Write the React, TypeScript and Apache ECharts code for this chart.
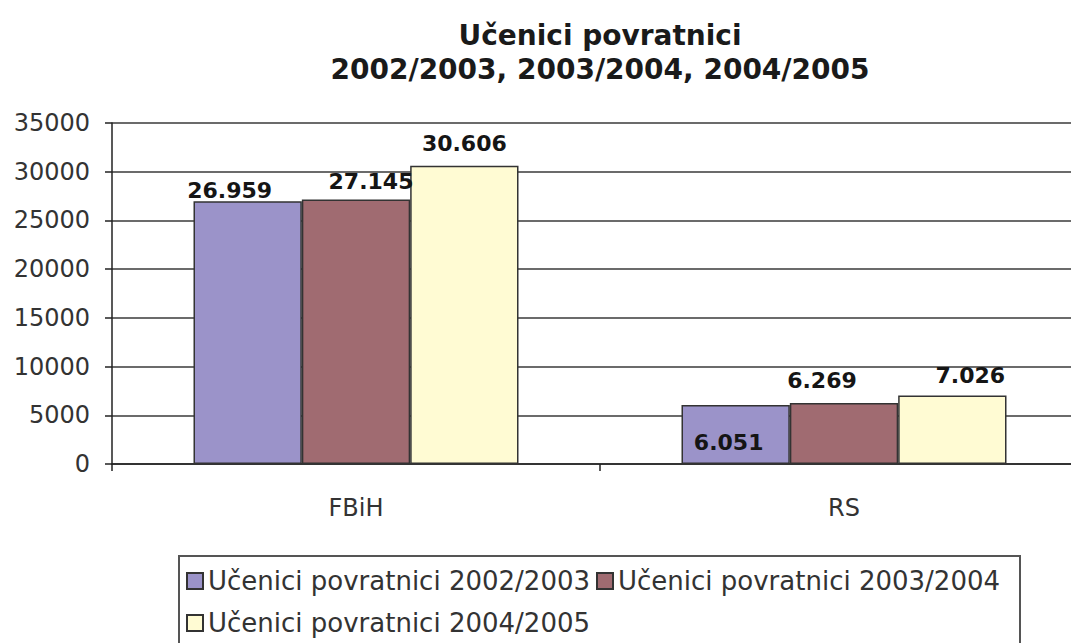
import React, { useEffect, useRef } from "react";
import * as echarts from "echarts";

const categories = ["FBiH", "RS"];
const seriesNames = [
  "Učenici povratnici 2002/2003",
  "Učenici povratnici 2003/2004",
  "Učenici povratnici 2004/2005",
];
const values2002 = [26959, 6051];
const values2003 = [27145, 6269];
const values2004 = [30606, 7026];
const yTicks = { min: 0, max: 35000, interval: 5000 };
const titleLines = ["Učenici povratnici", "2002/2003, 2003/2004, 2004/2005"];

const colors = ["#9b93c9", "#a06b71", "#fffbd3"];
const FONT = "DejaVu Sans";

// per-bar label placement tweaks [series][category]
const labelTweaks = [
  [{ position: "top", offset: [-18, 0] }, { position: "insideBottom", distance: 11, offset: [-7, 0] }],
  [{ position: "top", offset: [15, -7] }, { position: "top", offset: [-22, -11] }],
  [{ position: "top", offset: [0, -11] }, { position: "top", offset: [18, -9] }],
];

const fmt = (v: number) => String(v).replace(/\B(?=(\d{3})+(?!\d))/g, ".");

export default function App() {
  const ref = useRef<HTMLDivElement>(null);
  useEffect(() => {
    if (!ref.current) return;
    const chart = echarts.init(ref.current, null, { renderer: "svg" });
    const all = [values2002, values2003, values2004];
    const series = all.map((vals, si) => ({
      name: seriesNames[si],
      type: "bar",
      barGap: "0%",
      barCategoryGap: "33.4%",
      itemStyle: { color: colors[si], borderColor: "#333", borderWidth: 1.5 },
      label: {
        show: true,
        position: "top",
        distance: 0,
        fontFamily: FONT,
        fontWeight: "bold",
        fontSize: 22,
        color: "#151515",
        formatter: (p: any) => fmt(p.value),
      },
      data: vals.map((v, ci) => ({ value: v, label: labelTweaks[si][ci] })),
    }));
    chart.setOption({
      animation: false,
      backgroundColor: "#ffffff",
      textStyle: { fontFamily: FONT },
      grid: { left: 112, top: 123, right: 12, height: 341, containLabel: false },
      xAxis: {
        type: "category",
        data: categories,
        axisLine: { lineStyle: { color: "#222", width: 1.5 } },
        axisTick: { show: true, length: 7, lineStyle: { color: "#222", width: 1.5 } },
        axisLabel: { fontFamily: FONT, fontSize: 24, color: "#333", margin: 32 },
      },
      yAxis: {
        type: "value",
        min: yTicks.min,
        max: yTicks.max,
        interval: yTicks.interval,
        axisLine: { show: true, lineStyle: { color: "#222", width: 1.5 } },
        axisTick: { show: true, length: 7, lineStyle: { color: "#222", width: 1.5 } },
        splitLine: { show: true, lineStyle: { color: "#3a3a3a", width: 1.5 } },
        axisLabel: {
          fontFamily: FONT,
          fontSize: 24,
          color: "#333",
          margin: 22,
          formatter: (v: number) => String(v),
        },
      },
      legend: [
        {
          data: [seriesNames[0], seriesNames[1]],
          left: 186,
          top: 568,
          padding: 0,
          itemGap: 6,
          itemWidth: 16,
          itemHeight: 16,
          icon: "rect",
          textStyle: { fontFamily: FONT, fontSize: 26, color: "#333" },
        },
        {
          data: [seriesNames[2]],
          left: 186,
          top: 610,
          padding: 0,
          itemWidth: 16,
          itemHeight: 16,
          icon: "rect",
          textStyle: { fontFamily: FONT, fontSize: 26, color: "#333" },
        },
      ],
      graphic: [
        {
          type: "text",
          x: 600,
          y: 18,
          style: {
            text: titleLines.join("\n"),
            textAlign: "center",
            textVerticalAlign: "top",
            fontFamily: FONT,
            fontWeight: "bold",
            fontSize: 28,
            lineHeight: 34,
            fill: "#1a1a1a",
          },
        },
        {
          type: "rect",
          shape: { x: 179, y: 556, width: 841, height: 120 },
          style: { fill: "none", stroke: "#555", lineWidth: 2 },
          silent: true,
        },
      ],
      series,
    });
    return () => chart.dispose();
  }, []);
  return (
    <div
      ref={ref}
      style={{ position: "fixed", left: 0, top: 0, width: 1100, height: 643, background: "#fff" }}
    />
  );
}
